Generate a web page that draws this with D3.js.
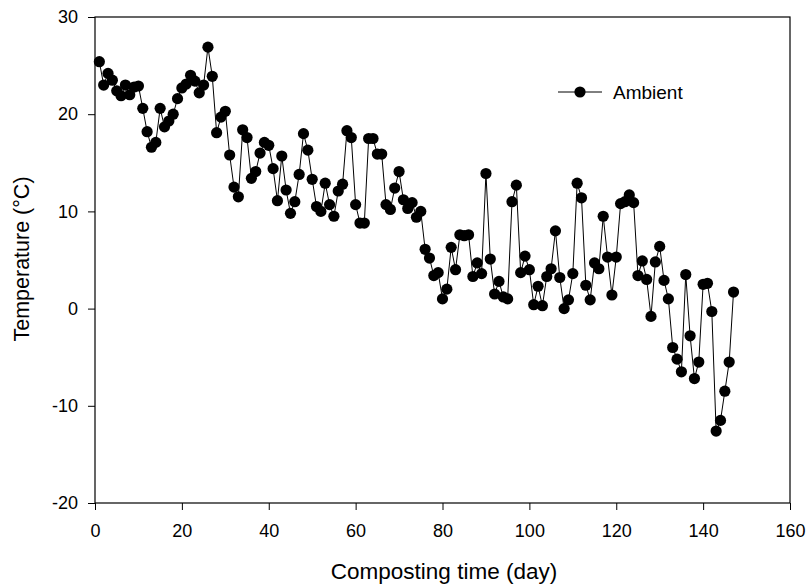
<!DOCTYPE html>
<html><head><meta charset="utf-8">
<script src="https://cdn.jsdelivr.net/npm/d3@7"></script>
<style>body{margin:0;background:#fff}svg{display:block}text{font-family:Arial,"Liberation Sans",sans-serif}</style>
</head><body>
<svg id="c" width="808" height="588"></svg>
<script>
const days = d3.range(1, 148);
const ambient = [
25.4,23.0,24.2,23.5,22.4,21.9,23.0,22.0,22.8,22.9,
20.6,18.2,16.6,17.1,20.6,18.7,19.3,20.0,21.6,22.7,
23.1,24.0,23.4,22.2,23.0,26.9,23.9,18.1,19.7,20.3,
15.8,12.5,11.5,18.4,17.6,13.4,14.1,16.0,17.1,16.8,
14.4,11.1,15.7,12.2,9.8,11.0,13.8,18.0,16.3,13.3,
10.5,10.0,12.9,10.7,9.5,12.1,12.8,18.3,17.6,10.7,
8.8,8.8,17.5,17.5,15.9,15.9,10.7,10.2,12.4,14.1,
11.2,10.3,10.9,9.4,10.0,6.1,5.2,3.4,3.7,1.0,
2.0,6.3,4.0,7.6,7.5,7.6,3.3,4.7,3.6,13.9,
5.1,1.5,2.8,1.2,1.0,11.0,12.7,3.7,5.4,4.0,
0.4,2.3,0.3,3.3,4.1,8.0,3.2,0.0,0.9,3.6,
12.9,11.4,2.4,0.9,4.7,4.1,9.5,5.3,1.4,5.3,
10.8,11.0,11.7,10.9,3.4,4.9,3.0,-0.8,4.8,6.4,
2.9,1.0,-4.0,-5.2,-6.5,3.5,-2.8,-7.2,-5.5,2.5,
2.6,-0.3,-12.6,-11.5,-8.5,-5.5,1.7];
const xTicks = [0,20,40,60,80,100,120,140,160];
const yTicks = [-20,-10,0,10,20,30];
const seriesName = "Ambient";
const xTitle = "Composting time (day)";
const yTitle = "Temperature (°C)";

const data = days.map((d,i)=>({x:d,y:ambient[i]}));
const L=95,R=790,T=17,B=503;
const svg = d3.select("#c");
const x = d3.scaleLinear().domain([0,160]).range([L,R]);
const y = d3.scaleLinear().domain([-20,30]).range([B,T]);
const fmt = d => String(d);

svg.append("g").attr("transform",`translate(0,${B})`)
  .call(d3.axisBottom(x).tickValues(xTicks).tickSize(7).tickPadding(14).tickFormat(fmt))
  .call(g=>{g.select(".domain").remove();g.selectAll("text").attr("font-size",18).attr("fill","#000");g.selectAll("line").attr("stroke","#000");});
svg.append("g").attr("transform",`translate(${L},0)`)
  .call(d3.axisLeft(y).tickValues(yTicks).tickSize(7).tickPadding(10).tickFormat(fmt))
  .call(g=>{g.select(".domain").remove();g.selectAll("text").attr("font-size",18).attr("fill","#000");g.selectAll("line").attr("stroke","#000");});
svg.append("rect").attr("x",L).attr("y",T).attr("width",R-L).attr("height",B-T)
  .attr("fill","none").attr("stroke","#000").attr("stroke-width",1.2);

svg.append("path").datum(data)
  .attr("d",d3.line().x(d=>x(d.x)).y(d=>y(d.y)))
  .attr("fill","none").attr("stroke","#000").attr("stroke-width",1);
svg.append("g").selectAll("circle").data(data).join("circle")
  .attr("cx",d=>x(d.x)).attr("cy",d=>y(d.y)).attr("r",5.6).attr("fill","#000");

const lg = svg.append("g");
lg.append("line").attr("x1",558).attr("x2",602).attr("y1",92).attr("y2",92).attr("stroke","#000").attr("stroke-width",1);
lg.append("circle").attr("cx",580).attr("cy",92).attr("r",5.6).attr("fill","#000");
lg.append("text").attr("x",613).attr("y",98.5).attr("font-size",19).text(seriesName);

svg.append("text").attr("x",444).attr("y",579).attr("text-anchor","middle").attr("font-size",22.5).text(xTitle);
svg.append("text").attr("transform",`translate(29,259) rotate(-90)`).attr("text-anchor","middle").attr("font-size",21.5).text(yTitle);
</script>
</body></html>
